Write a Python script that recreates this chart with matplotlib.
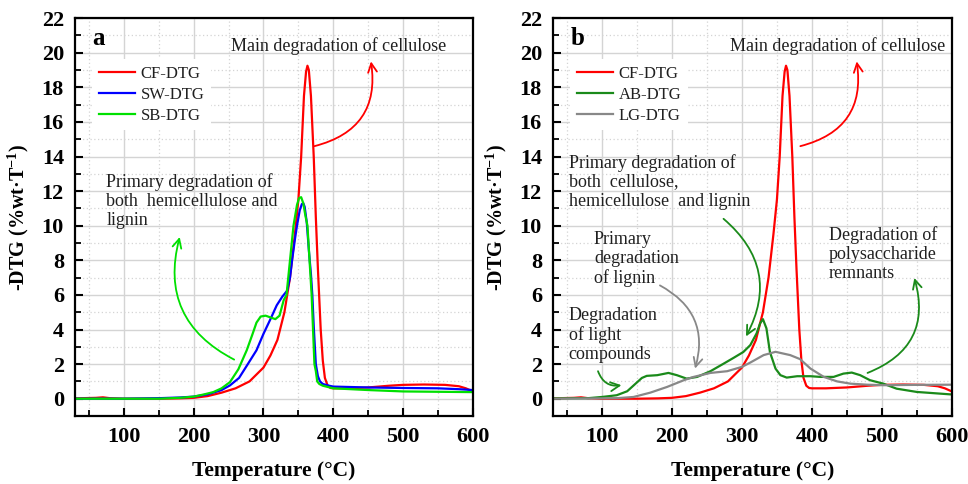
import matplotlib
matplotlib.use("Agg")
import matplotlib.pyplot as plt
from matplotlib.ticker import MultipleLocator

plt.rcParams['font.family'] = ['Liberation Serif', 'DejaVu Serif']
plt.rcParams['mathtext.fontset'] = 'custom'
plt.rcParams['mathtext.rm'] = 'Liberation Serif:bold'
plt.rcParams['mathtext.bf'] = 'Liberation Serif:bold'

# CF-DTG (shared by both panels)
cf_x = [30, 60, 70, 80, 100, 150, 180, 200, 220, 240, 260, 280, 300, 310, 320, 330,
        338, 345, 350, 354, 358, 361, 363, 365, 368, 372, 375, 378, 382, 385, 388,
        392, 396, 400, 420, 450, 480, 500, 530, 560, 580, 590, 600]
cf_y = [0.02, 0.05, 0.08, 0.03, 0.0, 0.0, 0.02, 0.05, 0.15, 0.35, 0.6, 1.0, 1.8, 2.5,
        3.4, 5.0, 7.0, 9.5, 11.5, 14.0, 17.5, 18.9, 19.25, 19.0, 17.5, 14.0, 10.5,
        7.5, 4.0, 2.2, 1.2, 0.75, 0.62, 0.6, 0.6, 0.65, 0.75, 0.8, 0.82, 0.8, 0.72,
        0.6, 0.42]

# SW-DTG
sw_x = [30, 100, 150, 180, 200, 220, 240, 252, 265, 276, 290, 300, 310, 319, 327,
        334, 338, 341, 345, 348, 352, 355, 357, 359, 362, 365, 368, 370, 372, 375,
        378, 381, 385, 394, 400, 450, 500, 550, 580, 600]
sw_y = [0.0, 0.0, 0.03, 0.07, 0.12, 0.25, 0.5, 0.77, 1.2, 1.9, 2.8, 3.75, 4.6, 5.4,
        5.9, 6.25, 7.0, 8.0, 9.2, 10.0, 10.9, 11.25, 11.3, 11.1, 10.2, 8.6, 7.2,
        6.0, 4.2, 2.0, 1.3, 1.0, 0.85, 0.75, 0.7, 0.65, 0.62, 0.6, 0.55, 0.5]

# SB-DTG
sb_x = [30, 100, 150, 180, 200, 215, 228, 240, 252, 264, 276, 284, 290, 296, 303,
        310, 317, 323, 329, 333, 338, 343, 348, 351, 354, 357, 360, 363, 366, 369,
        371, 373, 375, 377, 380, 385, 390, 400, 450, 500, 550, 600]
sb_y = [0.0, 0.0, 0.0, 0.05, 0.12, 0.25, 0.38, 0.6, 0.96, 1.7, 2.8, 3.7, 4.4, 4.75,
        4.8, 4.7, 4.6, 4.8, 5.7, 6.0, 8.0, 10.0, 11.2, 11.6, 11.65, 11.3, 10.6, 10.0,
        8.0, 6.0, 4.0, 2.0, 1.6, 1.0, 0.85, 0.75, 0.7, 0.6, 0.5, 0.42, 0.4, 0.38]

# AB-DTG
ab_x = [30, 80, 100, 121, 136, 148, 157, 164, 179, 195, 207, 221, 236, 255, 274, 288,
        302, 312, 321, 326, 330, 335, 340, 348, 355, 364, 379, 398, 412, 431, 445,
        457, 469, 483, 502, 521, 550, 598]
ab_y = [0.02, 0.03, 0.1, 0.2, 0.43, 0.87, 1.2, 1.32, 1.36, 1.49, 1.36, 1.16, 1.26,
        1.59, 2.03, 2.36, 2.7, 3.1, 3.78, 4.36, 4.6, 4.07, 2.7, 1.74, 1.36, 1.22,
        1.3, 1.3, 1.26, 1.26, 1.45, 1.51, 1.36, 1.07, 0.87, 0.58, 0.39, 0.25]

# LG-DTG
lg_x = [30, 100, 121, 145, 169, 193, 217, 231, 255, 279, 300, 312, 331, 348, 369,
        383, 398, 417, 436, 455, 479, 502, 550, 600]
lg_y = [0.0, 0.02, 0.03, 0.1, 0.35, 0.68, 1.07, 1.26, 1.49, 1.59, 1.84, 2.09, 2.52,
        2.71, 2.52, 2.29, 1.74, 1.26, 1.0, 0.87, 0.81, 0.78, 0.8, 0.81]

RED = '#ff0000'
BLUE = '#0000ff'
LIME = '#00e000'
DGREEN = '#1a8a1a'
GRAY = '#888888'
TXT = '#202020'
FS = 13

fig = plt.figure(figsize=(9.68, 4.84), dpi=100)
ax_a = fig.add_axes([0.0775, 0.1405, 0.411, 0.822])
ax_b = fig.add_axes([0.5713, 0.1405, 0.412, 0.822])


def style(ax, letter):
    ax.set_xlim(30, 600)
    ax.set_ylim(-1, 22)
    ax.xaxis.set_major_locator(MultipleLocator(100))
    ax.xaxis.set_minor_locator(MultipleLocator(50))
    ax.yaxis.set_major_locator(MultipleLocator(2))
    ax.yaxis.set_minor_locator(MultipleLocator(1))
    ax.grid(which='major', color='#d4d4d4', lw=1.0, ls='-')
    ax.grid(which='minor', color='#d4d4d4', lw=0.9, ls=(0, (1, 2)))
    ax.set_axisbelow(True)
    for s in ax.spines.values():
        s.set_linewidth(1.6)
        s.set_color('black')
    ax.tick_params(which='major', direction='in', length=6, width=1.5,
                   labelsize=16, pad=8)
    ax.tick_params(which='minor', direction='in', length=4, width=1.3)
    ax.tick_params(top=False, right=False, which='both')
    for lab in ax.get_xticklabels() + ax.get_yticklabels():
        lab.set_fontweight('bold')
    ax.set_xlabel('Temperature (°C)', fontsize=15.5, fontweight='bold', labelpad=10)
    ax.set_ylabel('-DTG (%wt·T' + r'$^{\mathbf{-1}}$' + ')', fontsize=14.5,
                  fontweight='bold', labelpad=8)
    ax.text(55, 20.8, letter, fontsize=18, fontweight='bold', va='center')


def arrow(ax, start, end, color, rad):
    ax.annotate('', xy=end, xytext=start,
                arrowprops=dict(arrowstyle='->', color=color, lw=1.3,
                                connectionstyle='arc3,rad=%s' % rad,
                                shrinkA=0, shrinkB=0, mutation_scale=16))


def legend(ax):
    leg = ax.legend(loc='upper left', bbox_to_anchor=(0.022, 0.918), fontsize=12,
                    frameon=True, fancybox=False, handlelength=2.2,
                    handletextpad=0.3, labelspacing=0.3, borderpad=0.4)
    leg.get_frame().set_facecolor('white')
    leg.get_frame().set_edgecolor('none')
    leg.get_frame().set_alpha(1)
    for t in leg.get_texts():
        t.set_color(TXT)


# panel a
ax_a.plot(cf_x, cf_y, color=RED, lw=1.6, label='CF-DTG')
ax_a.plot(sw_x, sw_y, color=BLUE, lw=1.6, label='SW-DTG')
ax_a.plot(sb_x, sb_y, color=LIME, lw=1.6, label='SB-DTG')
style(ax_a, 'a')
legend(ax_a)
ax_a.text(254, 20.4, 'Main degradation of cellulose', fontsize=FS, color=TXT,
          va='center')
arrow(ax_a, (373, 14.6), (454, 19.5), RED, 0.45)
ax_a.text(75, 11.4, 'Primary degradation of\nboth  hemicellulose and\nlignin',
          fontsize=FS, color=TXT, va='center', linespacing=1.15)
arrow(ax_a, (258, 2.26), (180, 9.35), LIME, -0.4)

# panel b
ax_b.plot(cf_x, cf_y, color=RED, lw=1.6, label='CF-DTG')
ax_b.plot(ab_x, ab_y, color=DGREEN, lw=1.6, label='AB-DTG')
ax_b.plot(lg_x, lg_y, color=GRAY, lw=1.6, label='LG-DTG')
style(ax_b, 'b')
legend(ax_b)
ax_b.text(283, 20.4, 'Main degradation of cellulose', fontsize=FS, color=TXT,
          va='center')
arrow(ax_b, (383.5, 14.6), (464, 19.5), RED, 0.45)
ax_b.text(52.6, 12.55, 'Primary degradation of\nboth  cellulose,\nhemicellulose  and lignin',
          fontsize=FS, color=TXT, va='center', linespacing=1.15)
arrow(ax_b, (273.7, 10.4), (305.8, 3.6), DGREEN, -0.4)
ax_b.text(88.5, 8.1, 'Primary\ndegradation\nof lignin', fontsize=FS, color=TXT,
          va='center', linespacing=1.15)
arrow(ax_b, (182.8, 6.55), (233, 1.74), GRAY, -0.4)
ax_b.text(52.6, 3.68, 'Degradation\nof light\ncompounds', fontsize=FS, color=TXT,
          va='center', linespacing=1.15)
arrow(ax_b, (94.3, 1.59), (127.8, 0.78), DGREEN, 0.4)
ax_b.text(424.4, 8.36, 'Degradation of\npolysaccharide\nremnants', fontsize=FS,
          color=TXT, va='center', linespacing=1.15)
arrow(ax_b, (479.5, 1.49), (546.4, 6.98), DGREEN, 0.45)

fig.savefig('out.png', dpi=100)
